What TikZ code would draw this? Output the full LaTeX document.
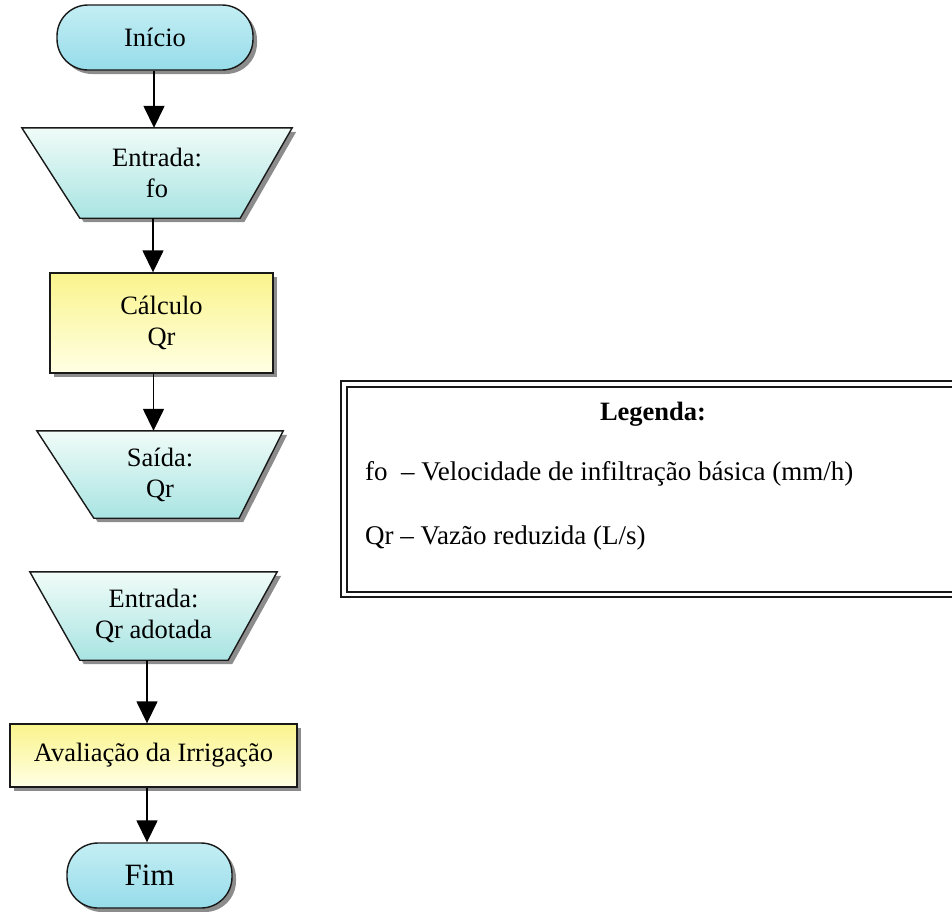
\documentclass[tikz,border=0pt]{standalone}
\usepackage{fontspec}
\setmainfont{Liberation Serif}
\usetikzlibrary{arrows.meta,shadows,backgrounds}

\definecolor{termtop}{RGB}{196,238,244}
\definecolor{termbot}{RGB}{150,220,234}
\definecolor{traptop}{RGB}{240,252,248}
\definecolor{trapbot}{RGB}{168,228,226}
\definecolor{boxtop}{RGB}{250,244,140}
\definecolor{boxbot}{RGB}{255,255,228}
\definecolor{edge}{RGB}{25,25,25}

\tikzset{
  txt/.style={inner sep=0pt, align=center, font=\fontsize{26.5}{31}\selectfont},
  shadowed/.style={drop shadow={shadow xshift=4pt, shadow yshift=-4pt, fill=black!45, opacity=1}},
  terminal/.style={txt, draw=edge, line width=1.4pt, rounded corners=31pt,
    top color=termtop, bottom color=termbot, shadowed},
  process/.style={txt, draw=edge, line width=1.4pt,
    top color=boxtop, bottom color=boxbot, shadowed},
  trapbox/.style={txt},
  trapline/.style={draw=edge, line width=1.4pt, line join=miter,
    top color=traptop, bottom color=trapbot, shadowed},
  flow/.style={line width=1.5pt, draw=black,
    -{Triangle[width=21pt,length=22pt]}},
  legtxt/.style={inner sep=0pt, font=\fontsize{27}{31}\selectfont},
}

\begin{document}
\begin{tikzpicture}[x=1pt,y=-1pt]
\useasboundingbox (0,0) rectangle (952,911);

% flowchart blocks
\node[terminal, minimum width=196pt, minimum height=65pt] (inicio) at (155,37.5) {Início};
\node[trapbox, minimum width=270pt, minimum height=90pt] (entrada) at (157,173) {Entrada:\\fo};
\node[process, minimum width=223pt, minimum height=100pt] (calculo) at (161.5,323) {Cálculo\\Qr};
\node[trapbox, minimum width=246pt, minimum height=87pt] (saida) at (160,474.5) {Saída:\\Qr};
\node[trapbox, minimum width=247pt, minimum height=88pt] (adotada) at (153.5,616) {Entrada:\\Qr adotada};
\node[process, minimum width=287pt, minimum height=63pt] (avaliacao) at (153.5,755.5) {Avaliação da Irrigação};
\node[terminal, minimum width=165pt, minimum height=65pt, font=\fontsize{31}{35}\selectfont] (fim) at (149.5,875.5) {Fim};

% trapezoid outlines behind their labels
\begin{scope}[on background layer]
  \path[trapline] (entrada.north west) -- (entrada.north east)
    -- ([xshift=-52pt]entrada.south east) -- ([xshift=58pt]entrada.south west) -- cycle;
  \path[trapline] (saida.north west) -- (saida.north east)
    -- ([xshift=-44pt]saida.south east) -- ([xshift=57pt]saida.south west) -- cycle;
  \path[trapline] (adotada.north west) -- (adotada.north east)
    -- ([xshift=-49pt]adotada.south east) -- ([xshift=50pt]adotada.south west) -- cycle;
\end{scope}

% connectors
\draw[flow] ([xshift=-1pt]inicio.south) -- ([xshift=-1pt]inicio.south |- entrada.north);
\draw[flow] ([xshift=-4pt]entrada.south) -- ([xshift=-4pt]entrada.south |- calculo.north);
\draw[flow] ([xshift=-8pt]calculo.south) -- ([xshift=-8pt]calculo.south |- saida.north);
\draw[flow] ([xshift=-6.5pt]adotada.south) -- ([xshift=-6.5pt]adotada.south |- avaliacao.north);
\draw[flow] ([xshift=-6.5pt]avaliacao.south) -- ([xshift=-6.5pt]avaliacao.south |- fim.north);

% legend frame (double rule)
\draw[edge, line width=2.4pt] (341,381) rectangle (975,597);
\draw[edge, line width=1.3pt] (347,387) rectangle (969,592);

% legend text
\node[legtxt, anchor=base, font=\fontsize{26.5}{31}\selectfont\bfseries] (legtitle) at (653,420) {Legenda:};
\node[legtxt, anchor=base west] (leg1) at (365,480) {fo~ – Velocidade de infiltração básica (mm/h)};
\node[legtxt, anchor=base west] (leg2) at (365,544) {Qr – Vazão reduzida (L/s)};
\end{tikzpicture}
\end{document}
